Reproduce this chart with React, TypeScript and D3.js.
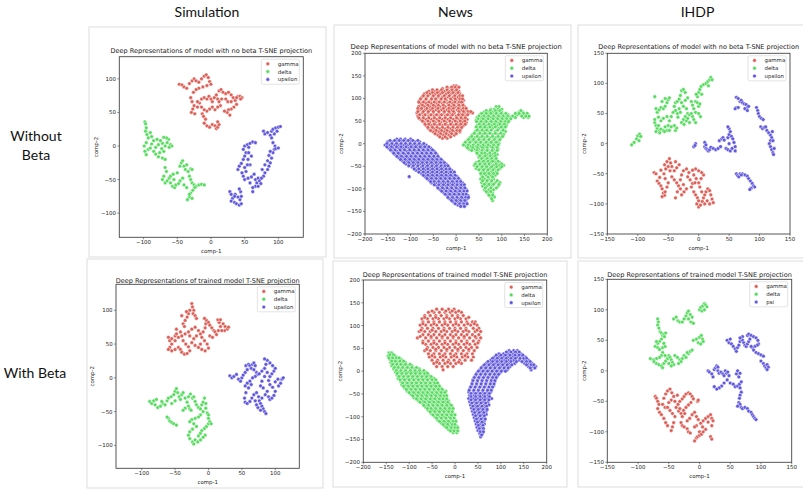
import React from "react";
import * as d3 from "d3";

type Pt = [number, number];
type Rows = [number, number[]][];
const fromRows = (rows: Rows): Pt[] => rows.flatMap(([yv, xs]) => xs.map((xv) => [xv, yv] as Pt));

// ---------- DATA ----------
const columnHeaders = ["Simulation", "News", "IHDP"];
const rowHeaders = [["Without", "Beta"], ["With Beta"]];
const titleNoBeta = "Deep Representations of model with no beta T-SNE projection";
const titleTrained = "Deep Representations of trained model T-SNE projection";
const labelsA = ["gamma", "delta", "upsilon"];
const labelsB = ["gamma", "delta", "psi"];
const ticksSim = [-100, -50, 0, 50, 100];
const ticksNews = [-200, -150, -100, -50, 0, 50, 100, 150, 200];
const ticksIhdp = [-150, -100, -50, 0, 50, 100, 150];

// Simulation, no beta
const simNoBetaGamma: Pt[] = [
  [-47,92],[-43,91],[-40,88],[-36,86],[-32,93],[-28,97],[-25,100],[-22,97],[-18,95],[-14,100],[-10,104],[-7,106],[-4,102],[-2,96],[0,92],[-6,90],[-12,88],[-18,86],[-22,84],[-26,80],
  [-30,72],[-28,66],[-25,60],[-27,55],[-29,50],[-24,48],[-20,58],[-17,64],[-14,70],[-10,72],[-6,70],[-3,74],[0,70],[2,66],[5,72],[8,76],[10,70],[12,66],[14,60],[10,58],[6,54],[2,58],[-2,55],[-6,52],[-10,54],[-13,48],[-11,44],[-8,40],[-10,34],[-6,30],[-2,28],[2,32],[6,30],[8,26],[10,28],[12,32],[10,36],[-14,58],[-20,66],
  [12,82],[15,84],[18,80],[22,78],[26,80],[30,76],[33,72],[36,68],[38,62],[34,58],[30,55],[26,54],[24,50],[28,46],[20,52],[16,70],[22,70],[25,66],[30,66],[40,74],[43,74],[46,72],[44,70],[38,72],
];
const simNoBetaDelta: Pt[] = [
  [-98,36],[-97,33],[-96,27],[-97,22],[-95,17],[-93,12],[-96,5],[-99,0],[-98,-8],[-96,-13],[-93,-5],[-90,-3],[-88,3],[-85,8],[-88,14],[-90,20],[-85,-8],[-82,-12],[-78,-16],[-76,-10],[-73,-4],[-70,-8],[-72,4],[-75,8],[-78,2],[-80,10],[-82,-2],[-68,0],[-65,5],[-63,10],[-66,12],[-70,13],[-60,2],[-58,0],[-62,-2],[-72,-18],[-68,-20],
  [-68,-32],[-66,-38],[-70,-45],[-72,-50],[-68,-55],[-65,-52],[-62,-48],[-60,-55],[-57,-60],[-54,-62],[-52,-58],[-60,-45],[-56,-42],[-50,-40],[-46,-30],[-44,-25],[-42,-22],[-40,-30],[-38,-35],[-36,-28],[-34,-38],[-30,-34],[-28,-35],[-32,-45],[-30,-50],[-28,-55],[-25,-58],[-22,-60],[-18,-58],[-14,-57],[-10,-58],[-24,-62],[-27,-66],[-30,-70],[-32,-76],[-35,-80],[-32,-72],[-28,-78],[-42,-48],[-46,-52],[-48,-56],[-55,-50],[-40,-58],[-36,-62],
];
const simNoBetaUpsilon: Pt[] = [
  [28,-68],[30,-72],[32,-78],[30,-82],[35,-84],[38,-86],[42,-88],[45,-86],[43,-80],[40,-76],[36,-72],[45,-75],[44,-68],[42,-64],[35,-75],
  [40,-35],[42,-30],[45,-26],[48,-20],[50,-15],[52,-10],[48,-5],[50,0],[54,2],[56,-2],[58,4],[62,6],[66,5],[55,-20],[58,-28],[52,-38],[48,-45],[50,-50],[55,-48],[60,-46],[64,-42],[66,-50],[68,-55],[66,-60],[62,-62],[58,-55],[70,-48],[72,-52],[74,-56],[70,-60],[62,-68],[54,-28],[50,-32],[46,-40],[56,-10],[60,-15],
  [78,22],[80,18],[84,20],[88,16],[90,22],[92,25],[96,27],[100,28],[103,29],[98,22],[94,18],[90,12],[92,5],[95,0],[94,-5],[92,-10],[90,-18],[88,-25],[86,-30],[84,-35],[80,-40],[78,-45],[75,-48],[96,-4],[100,-3],[88,-8],[86,-14],[84,-22],[80,-28],[76,-35],
];

// News, no beta (row form: [comp-2, comp-1 values])
const newsNoBetaGammaRows: Rows = [
  [128,[-5,0]],[122,[-30,-18,-8,2]],[116,[-60,-48,-38,-26,-14,-4,6]],[110,[-70,-58,-46,-35,-22,-12,0,8]],
  [103,[-75,-64,-52,-40,-30,-18,-6,4,12]],[96,[-80,-68,-56,-44,-34,-22,-10,0,10,16]],[89,[-78,-66,-54,-42,-30,-18,-8,4,14]],
  [82,[-82,-70,-58,-46,-36,-24,-12,-2,8,18]],[75,[-80,-68,-56,-44,-32,-20,-10,2,12,22]],[68,[-86,-74,-62,-50,-38,-26,-14,-4,8,18,28,36]],
  [61,[-84,-72,-60,-48,-36,-24,-12,0,10,20]],[54,[-78,-66,-54,-42,-30,-18,-6,6,16,24]],[47,[-70,-58,-46,-34,-22,-10,2,14,22]],
  [40,[-66,-54,-42,-30,-18,-6,6,16]],[33,[-60,-48,-36,-24,-12,0,10]],[26,[-50,-38,-26,-14,-2,8]],[19,[-40,-28,-16,-4]],[12,[-30,-20]],
  [125,[-20,-10,-2,6]],[119,[-52,-42,-32,-20,-9,1]],[113,[-64,-52,-41,-30,-17,-7,4]],[106,[-72,-62,-50,-39,-26,-15,-3,8,14]],
  [99,[-78,-66,-54,-45,-33,-24,-12,-2,8,14]],[92,[-82,-72,-60,-48,-37,-26,-14,-3,7,12]],[85,[-74,-62,-50,-39,-28,-16,-5,6,15]],
  [78,[-84,-76,-64,-52,-40,-28,-16,-6,5,16,22]],[71,[-84,-72,-61,-50,-38,-26,-16,-6,6,16,26,32]],[64,[-80,-68,-55,-43,-32,-19,-8,5,14,25]],
  [57,[-82,-72,-60,-48,-36,-24,-12,1,11,20]],[50,[-74,-62,-50,-38,-26,-14,-2,9,19]],[43,[-68,-60,-48,-36,-24,-12,0,10,20]],
  [36,[-62,-52,-42,-30,-18,-7,3,12]],[29,[-56,-44,-32,-20,-8,2,8]],[22,[-46,-34,-22,-10,0]],[15,[-36,-24,-12]],
];
const newsNoBetaDeltaRows: Rows = [
  [82,[88,94]],[76,[76,84,92,100]],[70,[62,70,80,90,100,138,146]],[64,[52,60,70,82,94,104,114,134,142,152]],
  [58,[46,56,66,76,88,98,108,118,130,148,158]],[52,[44,54,64,76,86,96,106,116]],[46,[50,60,72,82,92,104,112]],
  [40,[46,56,66,78,90,102,110]],[34,[48,58,68,80,94,104]],[27,[42,52,62,72,86,100,108]],[20,[36,48,58,68,80,92,104]],
  [13,[30,40,52,62,74,86,98]],[6,[24,34,46,56,68,80,92]],[0,[18,28,40,50,62,72,84,94]],[-6,[22,32,44,54,64,76,88]],
  [-12,[28,40,50,60,70,82,92]],[-18,[44,54,64,74,86]],[-24,[48,58,68,80,90]],[-30,[50,60,70,82]],[-36,[54,64,74,84]],
  [-42,[44,56,66,76,86,96]],[-48,[40,50,60,72,82,94,104]],[-55,[44,54,64,74,84,96]],[-62,[58,68,78,88]],[-70,[56,66,76,86]],
  [-78,[54,62,72,82]],[-86,[56,66,76,86,96]],[-94,[58,68,78,92]],[-102,[62,72,82]],[-110,[70,80]],[-118,[76,84]],[-126,[80]],
  [73,[66,75,86,96,142]],[67,[56,66,76,88,99,109,130,138,148,156]],[61,[50,61,71,82,93,103,113,124,144,153,160]],
  [55,[48,59,70,81,91,101,111,120]],[49,[45,55,66,77,87,98,108,115]],[43,[51,61,72,84,96,106]],[37,[44,53,63,74,86,99,108]],
  [30,[46,57,67,77,91,103]],[23,[40,52,63,74,86,98]],[16,[34,46,57,68,80,92,102]],[9,[27,38,50,61,72,84,96]],
  [3,[20,30,43,54,66,77,88]],[-3,[16,26,37,48,59,70,82,92]],[-9,[25,36,47,58,68,80,90]],[-15,[34,46,57,68,79,90]],
  [-21,[46,56,63,74,85]],[-27,[52,64,75,86]],[-33,[56,68,78,88]],[-39,[50,60,70,80,92]],[-45,[42,52,63,72,88,100]],
  [-51,[46,57,67,78,89,100]],[-58,[50,60,70,81,92]],[-66,[54,62,72,82,90]],[-74,[58,70,80]],[-82,[58,68,78,90]],
  [-90,[62,72,82,94]],[-98,[64,76,88]],[-106,[66,76]],[-114,[72,80]],[-122,[78]],
];
const newsNoBetaUpsilonRows: Rows = [
  [10,[-130,-122,-112,-100]],[4,[-150,-140,-130,-120,-110,-100,-90,-80]],[-3,[-156,-146,-136,-126,-116,-106,-96,-86,-76,-66]],
  [-10,[-148,-138,-126,-116,-104,-94,-84,-74,-64,-56]],[-17,[-140,-130,-120,-108,-98,-88,-78,-68,-58,-48]],
  [-24,[-134,-124,-112,-102,-92,-82,-72,-62,-52,-42]],[-31,[-126,-116,-106,-96,-86,-76,-66,-56,-46,-38]],
  [-38,[-118,-108,-98,-88,-78,-68,-58,-48,-38,-30]],[-45,[-110,-100,-90,-80,-70,-60,-50,-40,-30,-22]],
  [-52,[-96,-86,-76,-66,-56,-46,-36,-26,-16]],[-59,[-88,-78,-68,-58,-48,-38,-28,-18,-10]],[-66,[-76,-66,-56,-46,-36,-26,-16,-6]],
  [-73,[-103,-68,-58,-48,-38,-28,-18,-8,2]],[-80,[-60,-50,-40,-30,-20,-10,0,8]],[-87,[-54,-44,-34,-24,-14,-4,6,14]],
  [-94,[-42,-32,-22,-12,-2,8,16]],[-101,[-36,-26,-16,-6,4,14,22]],[-108,[-28,-18,-8,2,12,20]],[-115,[-20,-10,0,10,18,26]],
  [-122,[-14,-4,6,16,24]],[-129,[-6,4,14,22]],[-136,[4,12,20]],
  [7,[-145,-135,-125,-115,-105,-95,-84]],[0,[-152,-141,-131,-121,-111,-101,-91,-81,-71]],[-7,[-152,-142,-131,-121,-110,-99,-89,-79,-69,-60]],
  [-14,[-144,-134,-123,-113,-102,-92,-82,-72,-62,-52]],[-21,[-137,-127,-116,-105,-95,-85,-75,-65,-55,-45]],
  [-28,[-130,-120,-109,-99,-89,-79,-69,-59,-49,-40]],[-35,[-122,-112,-102,-92,-82,-72,-62,-52,-42,-33]],
  [-42,[-114,-104,-94,-84,-74,-64,-54,-44,-34,-26]],[-49,[-104,-94,-84,-73,-63,-53,-43,-33,-24,-18]],
  [-56,[-92,-82,-72,-62,-52,-42,-32,-22,-14]],[-63,[-82,-72,-62,-52,-42,-32,-22,-12,-4]],[-70,[-72,-62,-52,-42,-32,-22,-12,-2]],
  [-77,[-64,-54,-44,-34,-24,-14,-4,5]],[-84,[-56,-48,-38,-28,-18,-8,2,10]],[-91,[-48,-38,-28,-18,-8,2,11,18]],
  [-98,[-40,-30,-20,-10,0,10,19]],[-105,[-32,-22,-12,-2,8,17,24]],[-112,[-24,-14,-4,6,15,22]],[-119,[-18,-8,2,12,21,27]],
  [-126,[-10,0,10,19]],[-133,[-2,8,17,24]],[-139,[10,18]],
];

// IHDP, no beta
const ihdpNoBetaGamma: Pt[] = [
  [-73,-48],[-70,-50],[-68,-62],[-65,-66],[-62,-70],[-60,-75],[-58,-82],[-56,-86],[-60,-88],[-55,-80],[-52,-72],[-50,-65],[-55,-58],[-57,-50],[-54,-42],[-56,-35],[-52,-30],[-48,-25],[-46,-32],[-50,-38],[-47,-45],[-44,-55],[-40,-60],[-36,-65],[-33,-70],[-30,-75],[-35,-80],[-38,-90],[-28,-85],[-24,-80],[-20,-75],[-25,-68],[-30,-60],[-28,-52],[-25,-45],[-20,-42],[-16,-48],[-18,-55],[-14,-60],[-10,-66],[-12,-72],[-8,-80],[-5,-85],[-2,-90],[0,-95],[-3,-100],[0,-105],[3,-102],[6,-96],[8,-90],[10,-85],[12,-80],[15,-75],[18,-78],[20,-85],[22,-92],[24,-98],[18,-100],[14,-95],[10,-100],[5,-80],[2,-72],[0,-65],[4,-58],[8,-52],[5,-48],[0,-45],[-5,-42],[-10,-44],[-8,-52],[-4,-58],[-6,-65],[-40,-45],[-36,-40],[-32,-35],[-38,-30],[-44,-38],[-62,-44],[-64,-56],
];
const ihdpNoBetaDelta: Pt[] = [
  [-110,-2],[-106,2],[-102,8],[-100,13],[-97,16],[-95,12],[-98,5],
  [-72,78],[-70,58],[-68,52],[-65,56],[-62,60],[-58,58],[-55,62],[-52,68],[-50,73],[-48,76],[-55,75],[-60,70],[-72,35],[-70,30],[-68,25],[-66,30],[-64,22],[-62,24],[-58,22],[-55,28],[-52,22],[-50,30],[-48,38],[-52,45],[-58,42],[-62,38],[-66,44],[-72,40],[-45,45],[-42,52],[-40,62],[-38,68],[-35,70],[-32,74],[-30,80],[-28,88],[-25,90],[-22,85],[-28,68],[-25,62],[-20,58],[-18,50],[-22,45],[-25,40],[-28,35],[-24,32],[-20,38],[-15,48],[-12,50],[-10,45],[-8,40],[-5,35],[-15,35],[-18,42],[-35,50],[-38,55],[-32,58],[-10,64],[-12,70],[-5,70],[-2,68],[0,62],[2,66],[-8,58],[-5,52],[0,50],[3,45],[-2,78],[0,85],[2,90],[-4,82],[5,82],[4,95],[8,98],[12,100],[15,103],[18,106],[20,110],[16,96],[22,106],[-38,22],[-36,26],[-40,30],[-45,28],[-48,22],[-56,20],[-70,20],[-64,18],[-30,52],[-34,44],[-22,72],[-18,76],
];
const ihdpNoBetaUpsilon: Pt[] = [
  [62,77],[65,75],[68,70],[70,72],[72,68],[75,66],[78,65],[80,60],[82,62],[76,58],[62,60],[60,58],[65,60],[80,55],[95,60],[97,55],[98,50],[100,45],[103,42],[106,40],[102,28],[105,25],[108,27],[110,28],[112,22],[115,18],[118,14],[120,10],[118,5],[116,0],[118,-5],[120,-10],[122,-15],[123,-18],[121,20],[122,5],[124,-8],
  [-8,-5],[-5,0],[-6,-3],[10,-5],[12,-8],[14,-10],[16,-12],[18,-10],[20,-6],[24,-8],[28,-10],[32,-8],[36,-5],[34,5],[38,8],[40,10],[42,6],[45,-8],[48,-10],[52,-12],[55,-8],[50,0],[48,10],[50,15],[52,20],[50,25],[48,28],[54,12],[56,8],[58,2],[60,-5],[60,-12],[10,2],[12,-2],
  [62,-50],[64,-53],[66,-55],[68,-50],[72,-50],[76,-52],[80,-54],[82,-58],[85,-62],[88,-66],[90,-70],[92,-72],[86,-74],[84,-76],[70,-52],
];

// Simulation, trained
const simTrainedGamma: Pt[] = [
  [-25,110],[-24,105],[-22,100],[-23,95],[-20,92],[-18,88],[-28,100],[-30,95],[-32,90],[-35,85],[-38,80],[-36,76],[-40,92],[-33,98],
  [-60,60],[-58,55],[-55,58],[-50,62],[-48,65],[-45,60],[-50,55],[-55,50],[-58,45],[-60,42],[-55,40],[-50,42],[-45,45],[-42,42],[-40,38],[-36,35],[-32,36],[-28,40],[-30,46],[-34,50],[-38,55],[-40,62],[-35,65],[-30,68],[-25,72],[-20,75],[-15,70],[-12,65],[-10,60],[-18,62],[-22,58],[-25,52],[-20,48],[-15,45],[-10,42],[-5,40],[0,44],[-2,50],[-6,55],[-8,68],[-5,74],[-4,80],[-3,85],[-6,88],[0,82],[2,78],[5,74],[8,70],[10,68],[12,64],[15,70],[18,76],[16,82],[14,86],[18,86],[22,80],[25,76],[28,72],[30,75],[24,70],[20,70],[-12,50],[-28,62],[-42,68],[-48,72],[2,62],[6,60],
];
const simTrainedDelta: Pt[] = [
  [-88,-35],[-85,-38],[-82,-34],[-80,-40],[-76,-44],[-72,-42],[-68,-38],[-65,-40],[-62,-34],[-60,-30],[-56,-28],[-52,-25],[-50,-20],[-48,-16],[-46,-22],[-44,-28],[-42,-32],[-50,-34],[-55,-38],[-40,-25],[-38,-22],[-35,-30],[-32,-36],[-30,-42],[-28,-46],[-26,-48],[-30,-28],[-27,-24],[-24,-30],[-22,-28],[-20,-35],[-18,-40],[-15,-44],[-12,-46],[-10,-40],[-8,-36],[-6,-30],[-4,-38],[-4,-45],[-2,-52],[0,-55],[-8,-50],[-12,-55],[-15,-58],[-20,-60],[-25,-62],[-28,-65],[-22,-68],[-18,-72],[-24,-76],[-28,-80],[-30,-85],[-28,-90],[-24,-95],[-22,-98],[-20,-92],[-15,-86],[-12,-82],[-10,-78],[-6,-75],[-3,-72],[0,-68],[2,-65],[4,-68],[0,-60],[-60,-60],[-58,-64],[-55,-66],[-52,-68],[-48,-70],[-62,-58],[-35,-45],[-38,-48],[-70,-35],[-78,-32],[-5,-85],[-8,-88],[-16,-95],[-12,-92],
];
const simTrainedUpsilon: Pt[] = [
  [32,3],[35,0],[38,2],[42,5],[45,-2],[48,-5],[50,0],[52,4],[55,8],[58,12],[56,18],[60,20],[62,18],[64,14],[66,20],[68,22],[70,18],[68,12],[72,8],[74,5],[70,2],[66,0],[62,-5],[58,-8],[55,-12],[60,-15],[64,-10],[56,-22],[54,-30],[55,-36],[58,-38],[62,-35],[65,-30],[68,-25],[72,-22],[75,-28],[76,-34],[78,-38],[80,-42],[82,-46],[84,-50],[86,-53],[78,-48],[74,-44],[72,-40],[70,-34],[80,-30],[85,-25],[88,-20],[90,-28],[92,-32],[95,-30],[98,-26],[100,-20],[96,-14],[92,-10],[90,-4],[92,2],[95,6],[98,10],[100,14],[96,18],[92,22],[88,26],[84,28],[86,20],[84,14],[88,8],[84,2],[80,-5],[78,-12],[82,-15],[105,-12],[108,-8],[110,-2],[112,0],[104,-2],[100,-6],[76,6],[80,10],
];

// News, trained (row form)
const newsTrainedGammaRows: Rows = [
  [136,[-40,-28,-14,-2]],[129,[-58,-46,-34,-22,-10,2,14]],[122,[-66,-54,-42,-30,-18,-6,6,18]],[115,[-72,-60,-48,-36,-24,-12,0,12,24]],
  [108,[-70,-58,-46,-34,-22,-10,2,14,26,38,44]],[101,[-76,-64,-52,-40,-28,-16,-4,8,20,34,48]],[94,[-72,-60,-48,-36,-24,-12,0,12,24,40,52]],
  [87,[-78,-66,-54,-42,-30,-18,-6,6,18,30,44,56]],[80,[-70,-58,-46,-34,-22,-10,2,14,26,38,52]],[73,[-82,-64,-52,-40,-28,-16,-4,8,20,32,46,56]],
  [66,[-70,-58,-46,-34,-22,-10,2,14,26,40,52]],[59,[-64,-52,-40,-28,-16,-4,8,20,32,44]],[52,[-60,-48,-36,-24,-12,0,12,24,36,48]],
  [45,[-66,-54,-42,-30,-18,-6,6,18,30,42]],[38,[-58,-46,-34,-22,-10,2,14,26,38]],[31,[-56,-44,-32,-20,-8,4,16,28,40]],
  [24,[-50,-38,-26,-14,-2,10,22,36]],[17,[-46,-34,-22,-10,2,14]],[10,[-40,-28,-16,-4]],[3,[-26]],
  [132,[-50,-20,-6,8]],[118,[-66,-42,-18,6,30]],[104,[-70,-46,-22,2,28,42]],[90,[-74,-50,-24,0,24,48]],
  [76,[-76,-52,-28,-4,20,44]],[62,[-70,-46,-22,2,26,50]],[48,[-62,-42,-18,6,30]],[34,[-50,-26,-2,22]],[20,[-40,-16,8]],
];
const newsTrainedDeltaRows: Rows = [
  [40,[-144,-138]],[33,[-146,-138,-130]],[26,[-142,-134,-126,-118]],[19,[-140,-132,-124,-116,-108]],[12,[-138,-130,-122,-112,-102,-94]],
  [5,[-134,-126,-118,-108,-98,-88,-78]],[-2,[-130,-122,-112,-102,-92,-82,-72,-64]],[-9,[-126,-118,-108,-98,-88,-78,-68,-58]],
  [-16,[-124,-114,-104,-94,-84,-74,-64,-54,-46]],[-23,[-118,-108,-98,-88,-78,-68,-58,-48,-40]],[-30,[-116,-106,-96,-86,-76,-66,-56,-46,-36]],
  [-37,[-110,-100,-90,-80,-70,-60,-50,-40,-32]],[-44,[-104,-94,-84,-74,-64,-54,-44,-34,-26,-20]],[-51,[-96,-86,-76,-66,-56,-46,-36,-28,-20]],
  [-58,[-90,-80,-70,-60,-50,-40,-30,-22]],[-65,[-80,-70,-60,-50,-40,-30,-22,-14]],[-72,[-70,-60,-50,-40,-30,-20,-12]],
  [-79,[-64,-54,-44,-34,-24,-14,-6]],[-86,[-58,-48,-38,-28,-18,-8]],[-93,[-52,-42,-32,-22,-12,-4]],[-100,[-44,-34,-24,-14,-6]],
  [-107,[-38,-28,-18,-8,0]],[-114,[-30,-20,-10,-2]],[-121,[-22,-12,-4,4]],[-128,[-14,-6,2]],[-135,[-4,4]],
  [36,[-142,-134]],[29,[-144,-136,-128,-122]],[22,[-138,-130,-120,-112]],[15,[-136,-127,-118,-108,-98]],[8,[-132,-124,-114,-104,-94,-84]],
  [1,[-128,-118,-108,-97,-87,-77,-68]],[-5,[-126,-116,-106,-96,-86,-76,-66,-60]],[-12,[-122,-112,-102,-92,-82,-72,-62,-52]],
  [-19,[-120,-110,-100,-90,-80,-70,-60,-50,-42]],[-26,[-114,-104,-94,-84,-74,-64,-54,-44,-38]],[-33,[-112,-102,-92,-82,-72,-62,-52,-42,-34]],
  [-40,[-106,-96,-86,-76,-66,-56,-46,-36,-28]],[-47,[-100,-90,-80,-70,-60,-50,-40,-30,-22]],[-54,[-92,-82,-72,-62,-52,-42,-32,-24,-18]],
  [-61,[-84,-74,-64,-54,-44,-34,-26,-18]],[-68,[-76,-66,-56,-46,-36,-26,-16]],[-75,[-68,-58,-48,-38,-28,-18,-8]],
  [-82,[-60,-52,-42,-32,-22,-12,-4]],[-89,[-54,-44,-34,-24,-14,-6]],[-96,[-48,-38,-28,-18,-8,0]],[-103,[-40,-30,-20,-10,-2]],
  [-110,[-34,-24,-14,-4,2]],[-117,[-26,-16,-6,0]],[-124,[-18,-8,0,6]],[-131,[-10,-2,6]],
];
const newsTrainedUpsilonRows: Rows = [
  [45,[118,128,136]],[38,[96,106,116,126,136,144]],[31,[86,96,106,116,126,136,146,154]],[24,[78,88,98,108,118,128,140,150,160]],
  [17,[68,78,88,98,108,118,130,152,162,168]],[10,[60,70,80,90,100,110,120,160,170,176]],[3,[54,64,74,84,94,104,114,166]],
  [-4,[48,58,68,78,88,98]],[-11,[44,54,64,74,84,92]],[-18,[40,50,60,70,80,88]],[-25,[38,48,58,68,78,86]],[-32,[36,46,56,66,76,84]],
  [-39,[32,42,52,62,72,80]],[-46,[30,40,50,60,70,78]],[-53,[32,42,52,62,72]],[-60,[30,40,50,60,70,80]],[-67,[32,42,52,62,72]],
  [-74,[34,44,54,64,74]],[-81,[36,46,56,66]],[-88,[38,48,58,68]],[-95,[40,50,60,68]],[-102,[42,52,62]],[-109,[44,54,64]],
  [-116,[46,56,64]],[-123,[48,58]],[-130,[50,60]],[-137,[54,60]],[-144,[56]],
  [42,[112,122,132,140]],[35,[90,100,110,120,131,140,148]],[28,[82,92,102,112,122,132,142,150,156]],
  [21,[72,82,92,102,112,122,134,146,156,164]],[14,[64,74,84,94,104,114,124,156,166,172]],[7,[57,67,77,87,97,107,116,164,174]],
  [0,[51,61,71,81,91,101,110]],[-7,[46,56,66,76,86,95]],[-14,[42,52,62,72,82,90]],[-21,[39,49,59,69,79,87]],
  [-28,[37,47,57,67,77,85]],[-35,[34,44,54,64,74,82]],[-42,[31,41,51,61,71,79]],[-49,[35,45,55,65,75]],[-56,[35,45,55,65,75]],
  [-63,[35,45,55,65,74]],[-70,[37,47,57,67]],[-77,[39,49,59,69]],[-84,[41,51,61,70]],[-91,[43,53,63]],[-98,[45,55,64]],
  [-105,[47,57,66]],[-112,[49,59]],[-119,[51,61]],[-126,[53,62]],[-133,[55,62]],[-140,[58]],
];

// IHDP, trained
const ihdpTrainedGamma: Pt[] = [
  [-72,-42],[-70,-45],[-68,-50],[-66,-55],[-68,-62],[-65,-68],[-62,-72],[-58,-78],[-55,-85],[-52,-90],[-56,-60],[-60,-55],[-58,-45],[-55,-38],[-52,-33],[-48,-30],[-45,-36],[-42,-42],[-46,-48],[-50,-52],[-52,-60],[-48,-65],[-44,-70],[-40,-75],[-42,-85],[-44,-92],[-46,-98],[-38,-60],[-35,-55],[-32,-50],[-28,-46],[-25,-42],[-22,-38],[-18,-36],[-15,-38],[-12,-42],[-10,-46],[-14,-52],[-18,-56],[-22,-60],[-26,-65],[-30,-70],[-34,-66],[-28,-75],[-30,-85],[-28,-90],[-25,-92],[-20,-95],[-18,-100],[-15,-102],[-20,-82],[-16,-78],[-12,-72],[-8,-68],[-5,-75],[-2,-80],[-5,-90],[-8,-92],[0,-100],[-5,-110],[-8,-115],[-3,-108],[0,-106],[3,-104],[6,-100],[10,-96],[5,-92],[2,-86],[6,-82],[10,-78],[14,-75],[18,-72],[20,-78],[22,-82],[20,-90],[18,-108],[20,-112],[14,-84],[-3,-50],[-2,-48],[-36,-40],[-40,-50],[-24,-70],[-32,-62],
];
const ihdpTrainedDelta: Pt[] = [
  [-68,85],[-67,80],[-68,75],[-66,70],[-64,64],[-62,62],[-60,58],[-58,60],[-55,62],[-57,56],[-62,52],[-65,48],[-68,45],[-70,48],[-72,40],[-68,38],[-65,35],[-60,38],[-56,40],[-58,45],[-60,30],[-62,25],[-65,22],[-70,20],[-75,18],[-80,20],[-74,15],[-70,12],[-66,10],[-62,8],[-60,5],[-58,12],[-55,16],[-52,20],[-50,25],[-48,22],[-46,18],[-44,14],[-42,10],[-46,8],[-50,12],[-56,25],[-40,25],[-36,22],[-32,18],[-28,20],[-25,25],[-22,22],[-18,28],[-15,32],[-12,34],[-20,30],[-30,15],[-34,12],
  [-42,85],[-38,88],[-35,82],[-32,80],[-28,80],[-25,85],[-22,90],[-20,95],[-18,98],[-15,92],[-12,88],[-18,85],[-14,80],[-10,78],
  [0,100],[2,104],[5,106],[8,110],[10,108],[12,105],[4,98],[8,100],
  [-10,50],[-5,52],[0,55],[3,58],[5,52],[6,48],[-2,46],[2,44],
];
const ihdpTrainedPsi: Pt[] = [
  [45,50],[48,46],[50,52],[52,44],[55,40],[58,36],[60,32],[62,38],[64,42],[66,48],[68,52],[70,50],[72,46],[74,42],[76,40],[78,44],[80,48],[82,52],[78,58],[80,60],[84,58],[88,56],[92,54],[95,50],[96,44],[94,42],[90,40],[86,38],[88,34],[92,30],[96,28],[100,26],[104,24],[100,16],[104,12],[106,8],[108,5],[110,10],[112,6],[110,2],[70,56],[66,54],[84,40],
  [14,0],[16,-2],[20,-5],[22,-10],[24,2],[26,5],[28,8],[30,6],[30,0],[32,-4],[35,-2],[38,-5],[40,-8],[42,0],[44,-4],[46,-2],[48,-8],[45,-15],[50,-20],[55,-22],[58,-26],[62,-25],[65,-22],[68,-18],[64,-10],[60,-5],[62,0],[66,-4],[40,-20],[36,-25],[32,-28],[28,-30],[24,-26],[66,-28],[68,-35],[66,-40],[65,-45],[64,-52],[66,-55],[68,-60],[70,-62],[74,-60],[78,-62],[80,-66],[84,-68],[86,-72],[88,-75],[90,-78],[92,-80],[62,-58],
];

// ---------- STYLE / LAYOUT ----------
const COLORS = ["#db5f57", "#57db5f", "#5f57db"];
const FONT = "'DejaVu Sans', sans-serif";
const HEAD_FONT = "Lato, 'Open Sans', sans-serif";

type Panel = {
  title: string; titleSize: number; titleY: number;
  l: number; r: number; t: number; b: number;
  xDom: [number, number]; yDom: [number, number]; ticks: number[];
  labels: string[]; series: Pt[][]; frame: [number, number, number, number];
};

const panels: Panel[] = [
  { title: titleNoBeta, titleSize: 6.54, titleY: 52.6, l: 119.3, r: 303.3, t: 56.7, b: 237.3, xDom: [-136, 137], yDom: [-136, 133], ticks: ticksSim, labels: labelsA,
    series: [simNoBetaGamma, simNoBetaDelta, simNoBetaUpsilon], frame: [89, 27, 326, 257] },
  { title: titleNoBeta, titleSize: 6.85, titleY: 49.3, l: 365, r: 547.3, t: 53.3, b: 234, xDom: [-200, 200], yDom: [-200, 200], ticks: ticksNews, labels: labelsA,
    series: [fromRows(newsNoBetaGammaRows), fromRows(newsNoBetaDeltaRows), fromRows(newsNoBetaUpsilonRows)], frame: [334, 25, 571, 258] },
  { title: titleNoBeta, titleSize: 6.5, titleY: 49.3, l: 607.3, r: 790, t: 53.3, b: 234, xDom: [-150, 150], yDom: [-150, 150], ticks: ticksIhdp, labels: labelsA,
    series: [ihdpNoBetaGamma, ihdpNoBetaDelta, ihdpNoBetaUpsilon], frame: [578, 25, 806, 258] },
  { title: titleTrained, titleSize: 6.52, titleY: 282.8, l: 116, r: 299.3, t: 284.3, b: 468.3, xDom: [-138.5, 136], yDom: [-134, 138.5], ticks: ticksSim, labels: labelsA,
    series: [simTrainedGamma, simTrainedDelta, simTrainedUpsilon], frame: [87, 259, 323, 488] },
  { title: titleTrained, titleSize: 6.55, titleY: 277, l: 363.3, r: 546.7, t: 280, b: 462.3, xDom: [-200, 200], yDom: [-200, 200], ticks: ticksNews, labels: labelsA,
    series: [fromRows(newsTrainedGammaRows), fromRows(newsTrainedDeltaRows), fromRows(newsTrainedUpsilonRows)], frame: [333, 261, 567, 487] },
  { title: titleTrained, titleSize: 6.55, titleY: 277, l: 607.3, r: 791.7, t: 279.3, b: 462.3, xDom: [-150, 150], yDom: [-150, 150], ticks: ticksIhdp, labels: labelsB,
    series: [ihdpTrainedGamma, ihdpTrainedDelta, ihdpTrainedPsi], frame: [578, 261, 806, 487] },
];

const fmt = d3.format("d");

function PanelView({ p }: { p: Panel }) {
  const x = d3.scaleLinear().domain(p.xDom).range([p.l, p.r]);
  const y = d3.scaleLinear().domain(p.yDom).range([p.b, p.t]);
  const cx = (p.l + p.r) / 2;
  const cy = (p.t + p.b) / 2;
  const fs = 5.45;
  const lgL = p.r - 42, lgT = p.t + 2.5;
  const [fx0, fy0, fx1, fy1] = p.frame;
  return (
    <g>
      <rect x={fx0} y={fy0} width={fx1 - fx0} height={fy1 - fy0} fill="none" stroke="#d4d4d4" strokeWidth={0.8} />
      <text x={cx} y={p.titleY} textAnchor="middle" fontSize={p.titleSize} fontFamily={FONT} fill="#222">{p.title}</text>
      {p.series.map((pts, si) => (
        <g key={si}>
          {pts.map((d, i) => (
            <circle key={i} cx={x(d[0])} cy={y(d[1])} r={1.85} fill={COLORS[si]} stroke="#fff" strokeWidth={0.45} />
          ))}
        </g>
      ))}
      <rect x={p.l} y={p.t} width={p.r - p.l} height={p.b - p.t} fill="none" stroke="#444" strokeWidth={0.9} />
      {p.ticks.map((t) => (
        <g key={"x" + t}>
          <line x1={x(t)} x2={x(t)} y1={p.b} y2={p.b + 2} stroke="#444" strokeWidth={0.6} />
          <text x={x(t)} y={p.b + 7} textAnchor="middle" fontSize={fs} fontFamily={FONT} fill="#222">{fmt(t)}</text>
        </g>
      ))}
      {p.ticks.map((t) => (
        <g key={"y" + t}>
          <line x1={p.l - 2} x2={p.l} y1={y(t)} y2={y(t)} stroke="#444" strokeWidth={0.6} />
          <text x={p.l - 3.4} y={y(t)} dy="0.36em" textAnchor="end" fontSize={fs} fontFamily={FONT} fill="#222">{fmt(t)}</text>
        </g>
      ))}
      <text x={cx} y={p.b + 15.8} textAnchor="middle" fontSize={fs} fontFamily={FONT} fill="#222">comp-1</text>
      <text transform={`translate(${p.l - 23.5},${cy}) rotate(-90)`} dy="0.36em" textAnchor="middle" fontSize={fs} fontFamily={FONT} fill="#222">comp-2</text>
      <rect x={lgL} y={lgT} width={38} height={25} rx={1.5} fill="#fff" fillOpacity={0.8} stroke="#d0d0d0" strokeWidth={0.6} />
      {p.labels.map((lab, i) => (
        <g key={lab}>
          <circle cx={lgL + 6.5} cy={lgT + 4.6 + i * 7.8} r={1.85} fill={COLORS[i]} stroke="#fff" strokeWidth={0.45} />
          <text x={lgL + 16.5} y={lgT + 4.6 + i * 7.8} dy="0.36em" fontSize={fs} fontFamily={FONT} fill="#222">{lab}</text>
        </g>
      ))}
    </g>
  );
}

export default function App() {
  const headerX = [207, 455.5, 697.5];
  return (
    <svg width={803} height={493} style={{ position: "absolute", left: 0, top: 0, background: "#fff" }}>
      <rect x={0} y={0} width={803} height={493} fill="#fff" />
      {columnHeaders.map((h, i) => (
        <text key={h} x={headerX[i]} y={16.5} textAnchor="middle" fontSize={14} fontFamily={HEAD_FONT} fill="#111">{h}</text>
      ))}
      <text x={36} y={141} textAnchor="middle" fontSize={14} fontFamily={HEAD_FONT} fill="#111">{rowHeaders[0][0]}</text>
      <text x={36} y={159.5} textAnchor="middle" fontSize={14} fontFamily={HEAD_FONT} fill="#111">{rowHeaders[0][1]}</text>
      <text x={35} y={378} textAnchor="middle" fontSize={14} fontFamily={HEAD_FONT} fill="#111">{rowHeaders[1][0]}</text>
      {panels.map((p, i) => (
        <PanelView key={i} p={p} />
      ))}
    </svg>
  );
}
